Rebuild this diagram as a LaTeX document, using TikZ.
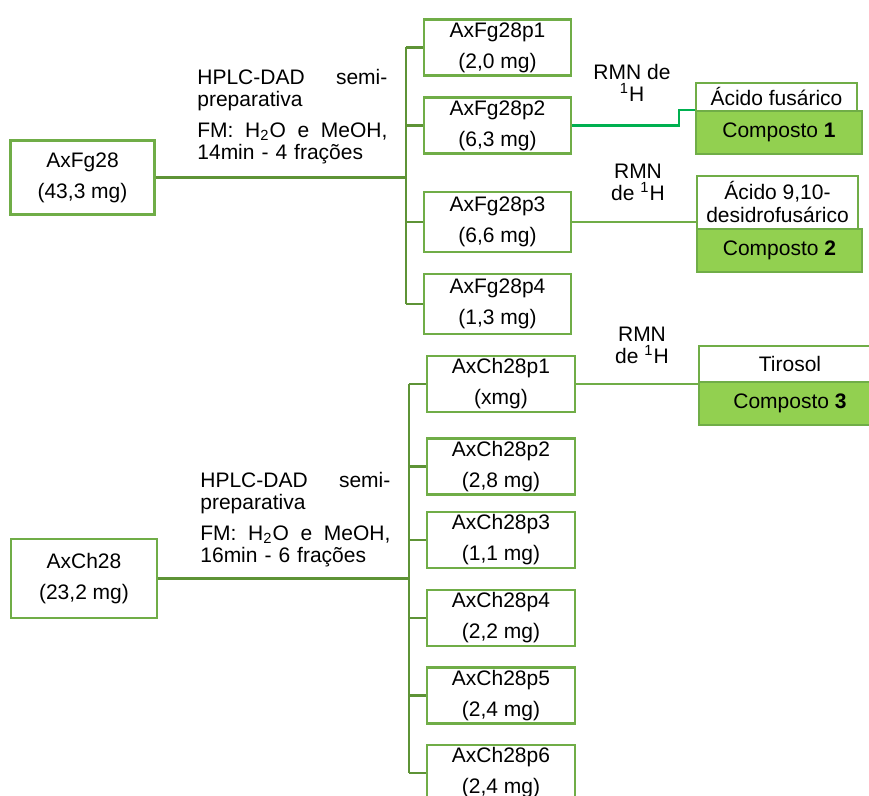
\documentclass[tikz,border=0pt]{standalone}
\usepackage{fontspec}
\setmainfont{Liberation Sans}
\usepackage{tikz}
\usetikzlibrary{positioning}
\definecolor{boxgreen}{HTML}{70AD47}
\definecolor{busgreen}{HTML}{5E9336}
\definecolor{linkgreen}{HTML}{00B050}
\definecolor{fillgreen}{HTML}{92D050}
\newcommand{\fullline}[1]{\leavevmode\hbox to 95pt{#1}}
\tikzset{
  frac/.style={draw=boxgreen, line width=1.2pt, fill=white, inner sep=0pt, align=center,
    minimum width=73.5pt, minimum height=28pt, font=\fontsize{10.5}{15.5}\selectfont},
  src/.style={frac, minimum width=72pt, minimum height=37pt},
  namebox/.style={draw=boxgreen, line width=1.2pt, fill=white, inner sep=0pt, align=center,
    minimum width=80.5pt, font=\fontsize{10.5}{11.5}\selectfont},
  compbox/.style={draw=boxgreen, line width=1.2pt, fill=fillgreen, inner sep=0pt,
    minimum width=83pt, minimum height=21.5pt, font=\fontsize{10.5}{12}\selectfont},
  bus/.style={draw=busgreen, line width=1.4pt},
  note/.style={align=center, inner sep=0pt, font=\fontsize{10.5}{11}\selectfont},
  method/.style={anchor=north west, inner sep=0pt, text width=95pt, align=left,
    font=\fontsize{10.5}{11}\selectfont}
}
\begin{document}
\begin{tikzpicture}[x=0.5pt,y=-0.5pt]
\useasboundingbox (0,0) rectangle (869,796);
\clip (0,0) rectangle (869,796);

% AxFg28
\node [src] (fg) at (82.5,177.5) {AxFg28\\(43,3 mg)};
\node [frac] (fgp1) at (497.5,47.5) {AxFg28p1\\(2,0 mg)};
\node [frac] (fgp2) at (497.5,125.5) {AxFg28p2\\(6,3 mg)};
\node [frac, minimum height=30pt] (fgp3) at (497.5,222) {AxFg28p3\\(6,6 mg)};
\node [frac, minimum height=30pt] (fgp4) at (497.5,304) {AxFg28p4\\(1,3 mg)};
\coordinate (fgbus) at (406,177.5);
\draw [bus] (fg.east) -- (fgbus);
\draw [bus] (fgbus |- fgp1) -- (fgbus |- fgp4);
\foreach \i in {1,...,4}
  \draw [bus] (fgbus |- fgp\i) -- (fgp\i.west);
\node [method] (fgmeth) at (197,69) {\fullline{HPLC-DAD\hfill semi-}\\preparativa\\[4.5pt]
  \fullline{FM:\hfill H\textsubscript{2}O\hfill e\hfill MeOH,}\\14min - 4 frações};

% compostos 1 e 2
\node [namebox, minimum height=14pt] (acf) at (776.5,97) {Ácido fusárico};
\node [compbox] (c1) at (779,132.5) {Composto \textbf{1}};
\node [namebox, minimum height=26.5pt] (acd) at (777.5,202.5) {\raisebox{-4pt}{\parbox{80pt}{\centering Ácido 9,10-\\desidrofusárico}}};
\node [compbox, minimum width=82.5pt] (c2) at (779.5,250.5) {Composto \textbf{2}};
\draw [draw=linkgreen, line width=1.1pt] (fgp2.east) -- +(107,0) |- (c1.north west);
\draw [draw=boxgreen, line width=0.9pt] (fgp3.east) -- (fgp3.east -| acd.west);
\node [note] (rmna) at (632,83) {RMN de\\\textsuperscript{1}H};
\node [note] (rmnb) at (638,182.5) {RMN\\de \textsuperscript{1}H};

% AxCh28
\node [src, minimum width=73pt, minimum height=39.5pt] (ch) at (84,578.5) {AxCh28\\(23,2 mg)};
\node [frac, minimum width=74pt] (chp1) at (501,384) {AxCh28p1\\(xmg)};
\node [frac, minimum width=74pt] (chp2) at (501,466.5) {AxCh28p2\\(2,8 mg)};
\node [frac, minimum width=74pt] (chp3) at (501,540) {AxCh28p3\\(1,1 mg)};
\node [frac, minimum width=74pt] (chp4) at (501,618) {AxCh28p4\\(2,2 mg)};
\node [frac, minimum width=74pt] (chp5) at (501,695.5) {AxCh28p5\\(2,4 mg)};
\node [frac, minimum width=74pt] (chp6) at (501,773) {AxCh28p6\\(2,4 mg)};
\coordinate (chbus) at (409,578.5);
\draw [bus] (ch.east) -- (chbus);
\draw [bus] (chbus |- chp1) -- (chbus |- chp6);
\foreach \i in {1,...,6}
  \draw [bus] (chbus |- chp\i) -- (chp\i.west);
\node [method] (chmeth) at (200,472) {\fullline{HPLC-DAD\hfill semi-}\\preparativa\\[4.5pt]
  \fullline{FM:\hfill H\textsubscript{2}O\hfill e\hfill MeOH,}\\16min - 6 frações};

% composto 3
\node [namebox, minimum width=91pt, minimum height=18pt] (tir) at (790,364) {\raisebox{-3pt}{Tirosol}};
\node [compbox, minimum width=91pt] (c3) at (790,403.5) {Composto \textbf{3}};
\draw [draw=boxgreen, line width=0.9pt] (chp1.east) -- (chp1.east -| tir.west);
\node [note] (rmnc) at (642,345) {RMN\\de \textsuperscript{1}H};
\end{tikzpicture}
\end{document}
